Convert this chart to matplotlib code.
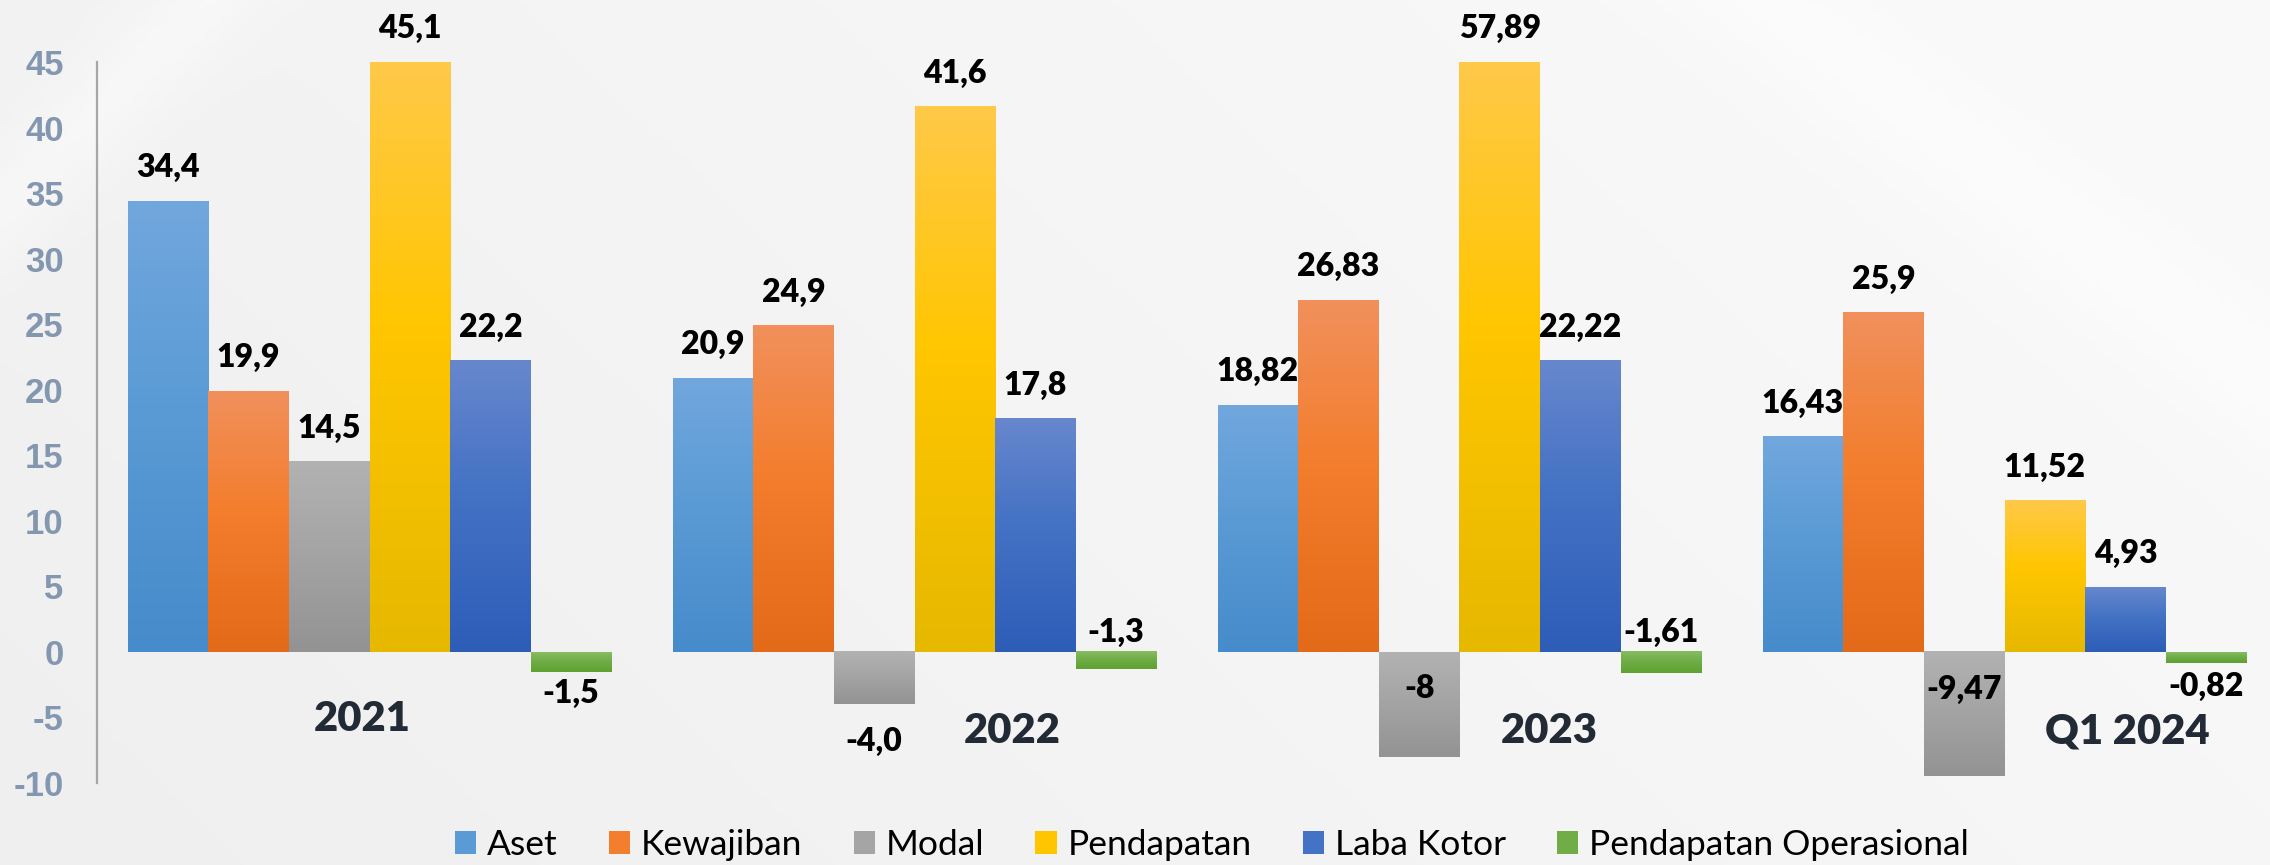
import numpy as np
import matplotlib
matplotlib.use("Agg")
import matplotlib.pyplot as plt
from matplotlib.patches import Rectangle
from matplotlib.colors import to_rgb

# ---------------- data ----------------
categories = ["2021", "2022", "2023", "Q1 2024"]
series_names = ["Aset", "Kewajiban", "Modal", "Pendapatan", "Laba Kotor",
                "Pendapatan Operasional"]
aset = [34.4, 20.9, 18.82, 16.43]
kewajiban = [19.9, 24.9, 26.83, 25.9]
modal = [14.5, -4.0, -8, -9.47]
pendapatan = [45.1, 41.6, 57.89, 11.52]
laba_kotor = [22.2, 17.8, 22.22, 4.93]
pendapatan_operasional = [-1.5, -1.3, -1.61, -0.82]
value_labels = [
    ["34,4", "20,9", "18,82", "16,43"],
    ["19,9", "24,9", "26,83", "25,9"],
    ["14,5", "-4,0", "-8", "-9,47"],
    ["45,1", "41,6", "57,89", "11,52"],
    ["22,2", "17,8", "22,22", "4,93"],
    ["-1,5", "-1,3", "-1,61", "-0,82"],
]
y_ticks = [-10, -5, 0, 5, 10, 15, 20, 25, 30, 35, 40, 45]
series = [aset, kewajiban, modal, pendapatan, laba_kotor, pendapatan_operasional]

# ---------------- style ----------------
grad_colors = [
    ("#71A7DD", "#5B9BD5", "#468BCB"),
    ("#F1905C", "#F37E2E", "#E36A18"),
    ("#B2B2B2", "#A5A5A5", "#939393"),
    ("#FFC948", "#FFC600", "#E6B800"),
    ("#6787CD", "#4472C4", "#2E5DB8"),
    ("#88BC63", "#70AD47", "#5EA131"),
]
neg_place = {
    (2, 1): ("bar", -27), (2, 2): ("zero", -26), (2, 3): ("zero", -27),
    (5, 0): ("zero", -30), (5, 1): ("zero", 14), (5, 2): ("zero", 14),
    (5, 3): ("zero", -25),
}
cat_label_dx = [-0.013, 0.18, 0.165, 0.226]
cat_label_dy = [-48, -57, -57, -57]

W, H, DPI = 22.7, 8.65, 100
fig = plt.figure(figsize=(W, H), dpi=DPI)

# background
bg = fig.add_axes([0, 0, 1, 1], zorder=-10)
bg.set_axis_off()
xx, yy = np.meshgrid(np.linspace(0, 1, 400), np.linspace(0, 1, 160))
val = 0.938 + 0.03 * xx + 0.012 * (1 - yy)
band = np.exp(-((yy * 0.38 + xx - 0.09) / 0.03) ** 2) * 0.02
band2 = np.exp(-((yy * 0.5 - xx + 0.78) / 0.05) ** 2) * 0.012
val = np.clip(val + band + band2, 0, 1)
bg.imshow(np.dstack([val, val, val]), extent=(0, 1, 0, 1), origin="upper",
          aspect="auto")
bg.set_xlim(0, 1)
bg.set_ylim(0, 1)

ax = fig.add_axes([97 / 2270, 1 - 783 / 865, 2180 / 2270, (783 - 62) / 865])
ax.patch.set_alpha(0)
ymin, ymax = -10, 45
ax.set_ylim(ymin, ymax)
ax.set_xlim(-0.5, len(categories) - 0.5)

nser = len(series)
bw = 0.148
x = np.arange(len(categories))
LABEL_FONT = dict(fontsize=23, fontweight="heavy", family="Lato",
                  color="black")


def gradient_img(c_top, c_mid, c_bot, n=100):
    t = np.linspace(0, 1, n)[:, None]
    a, b, c = (np.array(to_rgb(k)) for k in (c_top, c_mid, c_bot))
    up = a + (b - a) * np.clip(t / 0.45, 0, 1)
    dn = b + (c - b) * np.clip((t - 0.45) / 0.55, 0, 1)
    img = np.where(t < 0.45, up, dn)
    return img[:, None, :]


for i, vals in enumerate(series):
    xs = x + (i - (nser - 1) / 2) * bw
    bars = ax.bar(xs, vals, width=bw, color="none", edgecolor="none",
                  linewidth=0, zorder=2)
    img = gradient_img(*grad_colors[i])
    for j, (b, v) in enumerate(zip(bars, vals)):
        x0 = b.get_x()
        top = min(max(v, 0), ymax)
        bot = max(min(v, 0), ymin)
        ax.imshow(img, extent=(x0, x0 + bw, bot, top), origin="upper",
                  aspect="auto", zorder=2, interpolation="bilinear")
        lab = value_labels[i][j]
        if v >= 0:
            ax.annotate(lab, xy=(xs[j], top), xytext=(0, 24),
                        textcoords="offset points", ha="center", va="center",
                        annotation_clip=False, zorder=5, **LABEL_FONT)
        else:
            mode, off = neg_place.get((i, j), ("bar", -27))
            yref = v if mode == "bar" else 0
            ax.annotate(lab, xy=(xs[j], yref), xytext=(0, off),
                        textcoords="offset points", ha="center", va="center",
                        annotation_clip=False, zorder=5, **LABEL_FONT)

ax.set_xlim(-0.5, len(categories) - 0.5)
ax.set_ylim(ymin, ymax)

for j, c in enumerate(categories):
    ax.annotate(c, xy=(x[j] + cat_label_dx[j], 0), xytext=(0, cat_label_dy[j]),
                textcoords="offset points", ha="center", va="center",
                fontsize=30, fontweight="heavy", family="Lato",
                color="#222A35", zorder=5)

ax.set_xticks([])
ax.set_yticks(y_ticks)
ax.set_yticklabels([str(t) for t in y_ticks], fontsize=25, fontweight="bold",
                   family="Liberation Sans", color="#8497B0")
ax.tick_params(axis="y", length=0, pad=24)
for s in ["top", "right", "bottom"]:
    ax.spines[s].set_visible(False)
ax.spines["left"].set_color("#A6A6A6")
ax.spines["left"].set_linewidth(1.6)

handles = [Rectangle((0, 0), 1, 1, facecolor=grad_colors[i][1], edgecolor="none")
           for i in range(nser)]
fig.legend(handles, series_names, loc="center",
           bbox_to_anchor=(1212 / 2270, 1 - 845 / 865), ncol=nser,
           frameon=False, prop={"family": "Lato", "size": 25.5},
           handlelength=0.6, handleheight=0.6, handletextpad=0.3,
           columnspacing=1.45, borderaxespad=0)

fig.savefig("out.png", dpi=DPI)
